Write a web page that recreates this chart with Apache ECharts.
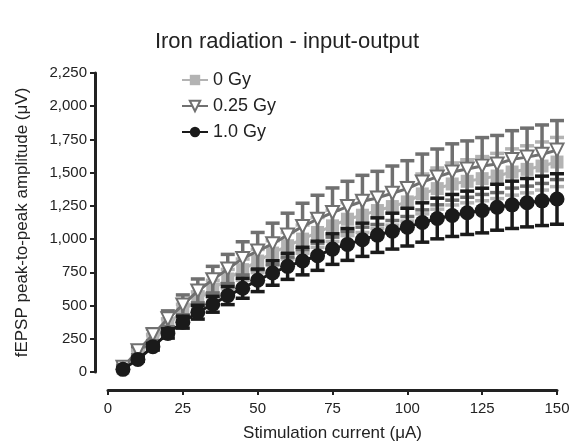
<!DOCTYPE html>
<html>
<head>
<meta charset="utf-8">
<script src="https://cdn.jsdelivr.net/npm/echarts@6.0.0/dist/echarts.min.js"></script>
<style>
  html, body { margin: 0; padding: 0; background: #fff; }
  #chart { width: 574px; height: 447px; }
</style>
</head>
<body>
<div id="chart"></div>
<script>
// stimulation current (uA)
var current = [5, 10, 15, 20, 25, 30, 35, 40, 45, 50, 55, 60, 65, 70, 75,
               80, 85, 90, 95, 100, 105, 110, 115, 120, 125, 130, 135, 140, 145, 150]

// mean fEPSP amplitude (uV) and SEM
var gy0 = [30, 140, 250, 360, 460, 545, 625, 700, 770, 835, 895, 950, 1000, 1050, 1100,
           1150, 1180, 1215, 1245, 1280, 1340, 1380, 1415, 1435, 1455, 1475, 1505, 1525, 1550, 1580]
var gy0Sem = [10, 20, 30, 40, 50, 58, 65, 72, 80, 87, 93, 100, 106, 112, 118,
              124, 130, 135, 140, 145, 150, 155, 158, 162, 166, 170, 174, 177, 181, 185]

var gy025 = [35, 160, 280, 400, 505, 610, 695, 775, 855, 910, 965, 1030, 1095, 1150, 1200,
             1245, 1285, 1310, 1345, 1380, 1430, 1468, 1505, 1527, 1550, 1565, 1600, 1617, 1639, 1670]
var gy025Sem = [15, 30, 45, 60, 75, 90, 100, 110, 125, 140, 155, 165, 175, 180, 185,
                190, 195, 200, 205, 210, 210, 210, 212, 212, 214, 215, 216, 218, 220, 222]

var gy1 = [20, 95, 190, 290, 375, 450, 510, 575, 630, 690, 745, 795, 835, 875, 925,
           960, 995, 1030, 1060, 1090, 1125, 1155, 1178, 1198, 1215, 1240, 1258, 1274, 1288, 1302]
var gy1Sem = [8, 15, 25, 35, 45, 52, 60, 68, 75, 85, 92, 98, 104, 110, 115,
              120, 125, 130, 135, 142, 148, 153, 158, 163, 168, 173, 178, 182, 186, 190]

var yTicks = [0, 250, 500, 750, 1000, 1250, 1500, 1750, 2000, 2250]

var font = 'Liberation Sans, Arial, sans-serif'
var chart = echarts.init(document.getElementById('chart'))

function pairs(mean) {
  return mean.map(function (m, i) { return [current[i], m] })
}
function bars(mean, sem) {
  return mean.map(function (m, i) { return [current[i], m - sem[i], m + sem[i]] })
}
function errorSeries(mean, sem, color, z) {
  return {
    type: 'custom',
    z: z,
    silent: true,
    data: bars(mean, sem),
    renderItem: function (params, api) {
      var x = api.value(0)
      var lo = api.coord([x, api.value(1)])
      var hi = api.coord([x, api.value(2)])
      var w = 7
      var st = { stroke: color, lineWidth: 3.5 }
      return {
        type: 'group',
        children: [
          { type: 'line', shape: { x1: hi[0], y1: hi[1], x2: lo[0], y2: lo[1] }, style: st },
          { type: 'line', shape: { x1: hi[0] - w, y1: hi[1], x2: hi[0] + w, y2: hi[1] }, style: st },
          { type: 'line', shape: { x1: lo[0] - w, y1: lo[1], x2: lo[0] + w, y2: lo[1] }, style: st }
        ]
      }
    }
  }
}
function lineSeries(name, mean, color, symbol, fill, z) {
  return {
    name: name,
    type: 'line',
    z: z,
    data: pairs(mean),
    symbol: symbol,
    symbolSize: symbol === 'circle' ? 15 : 13,
    symbolRotate: symbol === 'triangle' ? 180 : 0,
    lineStyle: { color: color, width: 3 },
    itemStyle: { color: fill, borderColor: color, borderWidth: symbol === 'triangle' ? 2 : 0 },
    emphasis: { disabled: true },
    animation: false
  }
}

chart.setOption({
  animation: false,
  title: {
    text: 'Iron radiation - input-output',
    left: 'center',
    top: 26,
    textStyle: { fontFamily: font, fontSize: 22, fontWeight: 'normal', color: '#222' }
  },
  legend: {
    orient: 'vertical',
    left: 176,
    top: 66,
    itemWidth: 26,
    itemHeight: 13,
    itemGap: 8,
    textStyle: { fontFamily: font, fontSize: 18, color: '#222' },
    data: ['0 Gy', '0.25 Gy', '1.0 Gy']
  },
  grid: { left: 108, right: 17, top: 73, bottom: 72 },
  xAxis: {
    type: 'value',
    min: 0,
    max: 150,
    interval: 25,
    offset: 18,
    name: 'Stimulation current (\u03bcA)',
    nameLocation: 'middle',
    nameGap: 35,
    nameTextStyle: { fontFamily: font, fontSize: 17, color: '#222' },
    axisLine: { show: true, onZero: false, lineStyle: { color: '#222', width: 3 } },
    axisTick: { show: true, length: 5, lineStyle: { color: '#222', width: 2 } },
    axisLabel: { fontFamily: font, fontSize: 15, color: '#222', margin: 11 },
    splitLine: { show: false }
  },
  yAxis: {
    type: 'value',
    min: 0,
    max: 2250,
    interval: 250,
    offset: 13,
    name: 'fEPSP peak-to-peak amplitude (\u03bcV)',
    nameLocation: 'middle',
    nameGap: 64,
    nameTextStyle: { fontFamily: font, fontSize: 17, color: '#222' },
    axisLine: { show: true, onZero: false, lineStyle: { color: '#222', width: 3 } },
    axisTick: { show: true, length: 5, lineStyle: { color: '#222', width: 2 } },
    axisLabel: {
      fontFamily: font, fontSize: 15, color: '#222', margin: 8,
      formatter: function (v) { return yTicks.indexOf(v) >= 0 ? v.toLocaleString('en-US') : '' }
    },
    splitLine: { show: false }
  },
  series: [
    errorSeries(gy0, gy0Sem, '#b3b3b3', 1),
    lineSeries('0 Gy', gy0, '#b3b3b3', 'rect', '#b3b3b3', 2),
    errorSeries(gy025, gy025Sem, '#707070', 3),
    lineSeries('0.25 Gy', gy025, '#707070', 'triangle', '#ffffff', 4),
    errorSeries(gy1, gy1Sem, '#1a1a1a', 5),
    lineSeries('1.0 Gy', gy1, '#1a1a1a', 'circle', '#1a1a1a', 6)
  ]
})
</script>
</body>
</html>
